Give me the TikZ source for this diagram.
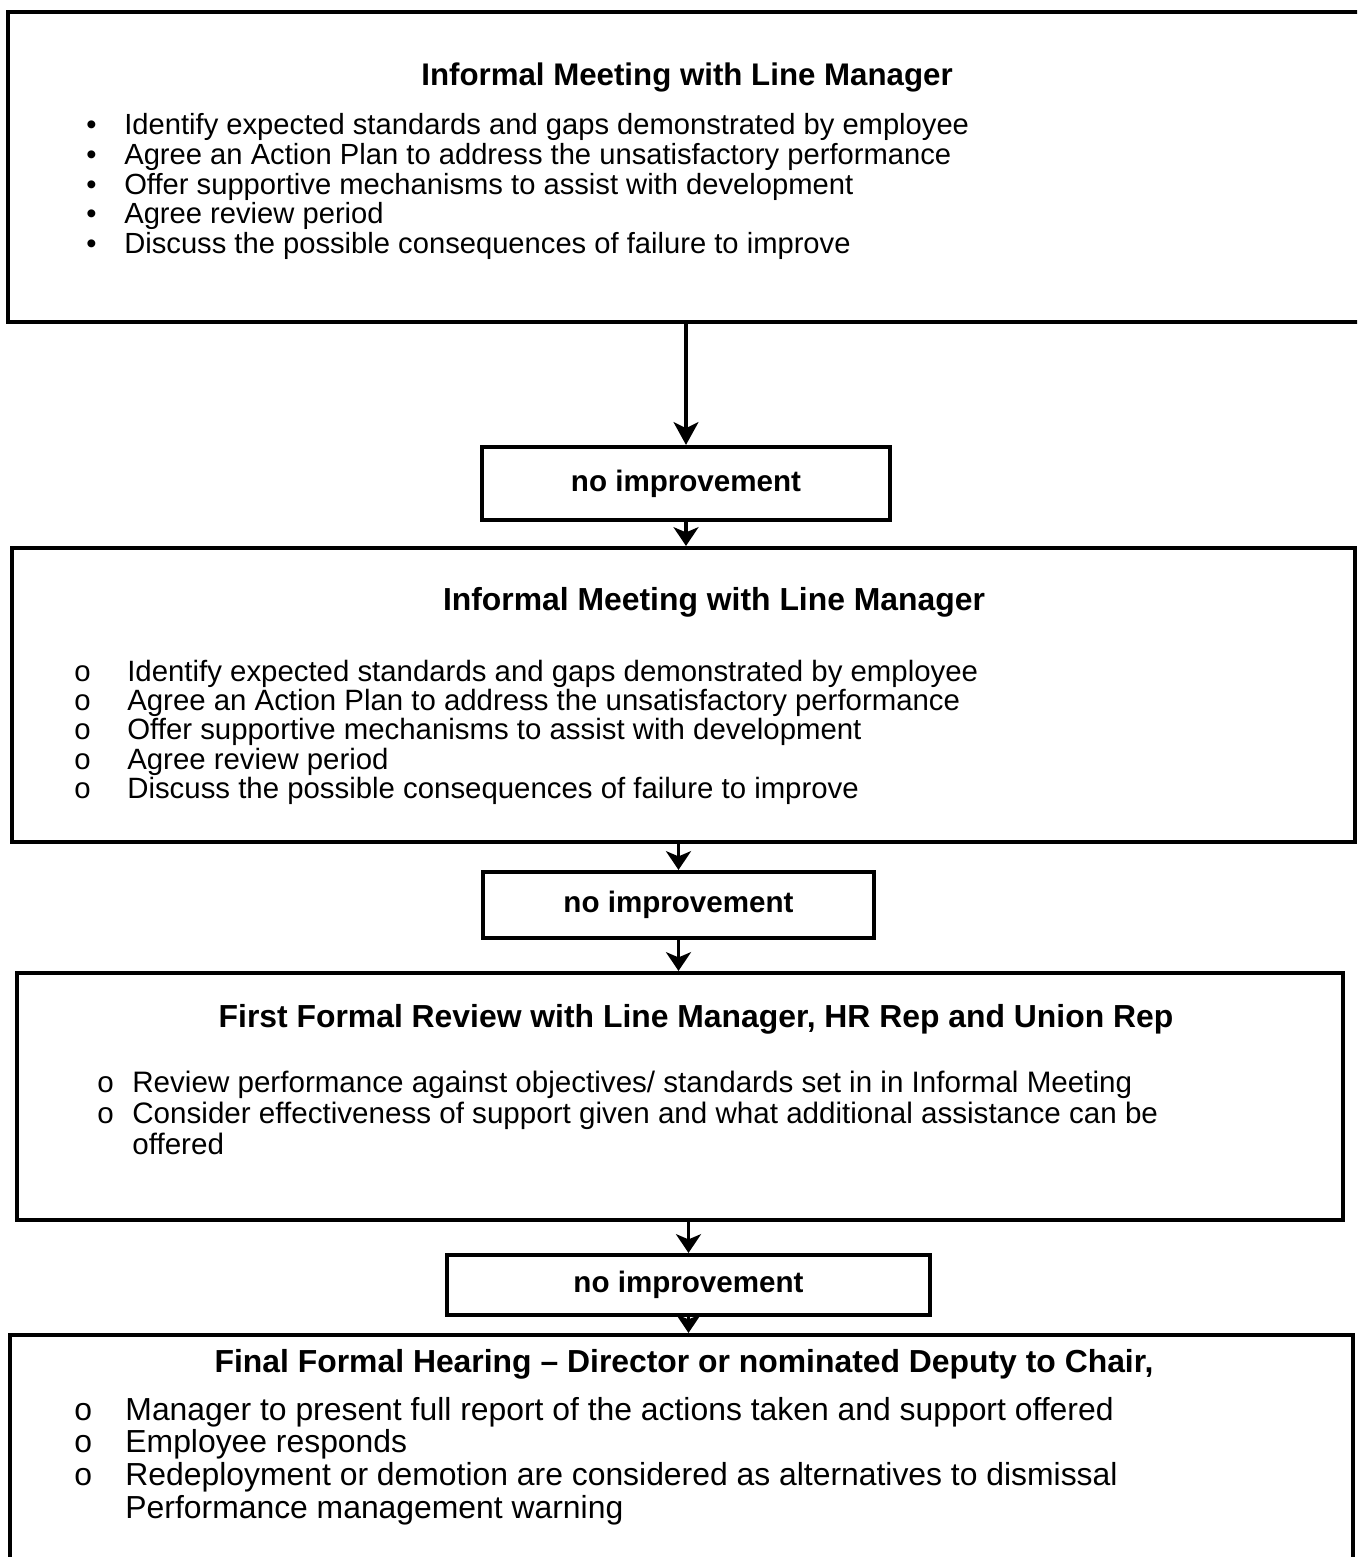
\documentclass[tikz,border=0pt]{standalone}
\usepackage{fontspec}
\setmainfont{Liberation Sans}
\usetikzlibrary{arrows.meta,fit}
\tikzset{
    panel/.style = {rectangle,
                    draw=black,
                    line width=2pt,
                    inner sep=0pt},
    verdict/.style = {rectangle,
                    draw=black,
                    line width=2pt,
                    inner sep=0pt,
                    font=\fontsize{14.2}{16}\selectfont\bfseries},
    heading/.style = {anchor=base,
                    inner sep=0pt,
                    font=\fontsize{15.3}{17}\selectfont\bfseries},
    items/.style = {anchor=base west,
                    inner sep=0pt},
    flow/.style = {-{Stealth[length=11pt,width=12pt,inset=3pt]},
                    line width=1.5pt},
    hop/.style = {-{Stealth[length=9pt,width=12pt,inset=2.5pt]},
                    line width=1.5pt}
}

\begin{document}
\begin{tikzpicture}[x=0.48pt,y=-0.48pt]
    \useasboundingbox (0,0) rectangle (1357,1557);
    \clip (0,0) rectangle (1357,1557);
    \node[panel, fit={(8,12) (1368,322)}]     (meet1)   {};
    \node[verdict, minimum width=408*0.48pt, minimum height=73*0.48pt] (gap1) at (686,483.5) {no improvement};
    \node[panel, fit={(12,548) (1355,842)}]   (meet2)   {};
    \node[verdict, minimum width=391*0.48pt, minimum height=66*0.48pt] (gap2) at (678.5,905) {no improvement};
    \node[panel, fit={(17,973) (1343,1220)}]  (review)  {};
    \node[verdict, minimum width=483*0.48pt, minimum height=60*0.48pt] (gap3) at (688.5,1285) {no improvement};
    \node[panel, fit={(10,1335) (1353,1580)}] (hearing) {};
    \draw[flow] (meet1.south -| gap1.north) -- (gap1.north);
    \draw[hop]  (gap1.south) -- (gap1.south |- meet2.north);
    \draw[hop]  (meet2.south -| gap2.north) -- (gap2.north);
    \draw[hop]  (gap2.south) -- (gap2.south |- review.north);
    \draw[hop]  (review.south -| gap3.north) -- (gap3.north);
    \draw[hop]  (gap3.south) -- (gap3.south |- hearing.north);
    \node[heading, font=\fontsize{15}{17}\selectfont\bfseries] (meet1head) at (687,86) {Informal Meeting with Line Manager};
    \node[heading] (meet2head)   at (714,610)  {Informal Meeting with Line Manager};
    \node[heading] (reviewhead)  at (696,1027) {First Formal Review with Line Manager, HR Rep and Union Rep};
    \node[heading] (hearinghead) at (684,1372) {Final Formal Hearing -- Director or nominated Deputy to Chair,};
    \node[items, font=\fontsize{14}{13.8}\selectfont] (meet1list) at (86,134.5) {%
        \begin{tabular}[t]{@{}p{18.2pt}@{}l@{}}
        • & Identify expected standards and gaps demonstrated by employee\\
        • & Agree an Action Plan to address the unsatisfactory performance\\
        • & Offer supportive mechanisms to assist with development\\
        • & Agree review period\\
        • & Discuss the possible consequences of failure to improve
        \end{tabular}};
    \node[items, font=\fontsize{14.1}{13}\selectfont] (meet2list) at (74,681) {%
        \begin{tabular}[t]{@{}p{25.4pt}@{}l@{}}
        o & Identify expected standards and gaps demonstrated by employee\\
        o & Agree an Action Plan to address the unsatisfactory performance\\
        o & Offer supportive mechanisms to assist with development\\
        o & Agree review period\\
        o & Discuss the possible consequences of failure to improve
        \end{tabular}};
    \node[items, font=\fontsize{14.2}{14.9}\selectfont] (reviewlist) at (97,1092) {%
        \begin{tabular}[t]{@{}p{16.8pt}@{}l@{}}
        o & Review performance against objectives/ standards set in in Informal Meeting\\
        o & Consider effectiveness of support given and what additional assistance can be\\
          & offered
        \end{tabular}};
    \node[items, font=\fontsize{15.3}{15.7}\selectfont] (hearinglist) at (74,1420) {%
        \begin{tabular}[t]{@{}p{24.5pt}@{}l@{}}
        o & Manager to present full report of the actions taken and support offered\\
        o & Employee responds\\
        o & Redeployment or demotion are considered as alternatives to dismissal\\
          & Performance management warning
        \end{tabular}};
\end{tikzpicture}
\end{document}
